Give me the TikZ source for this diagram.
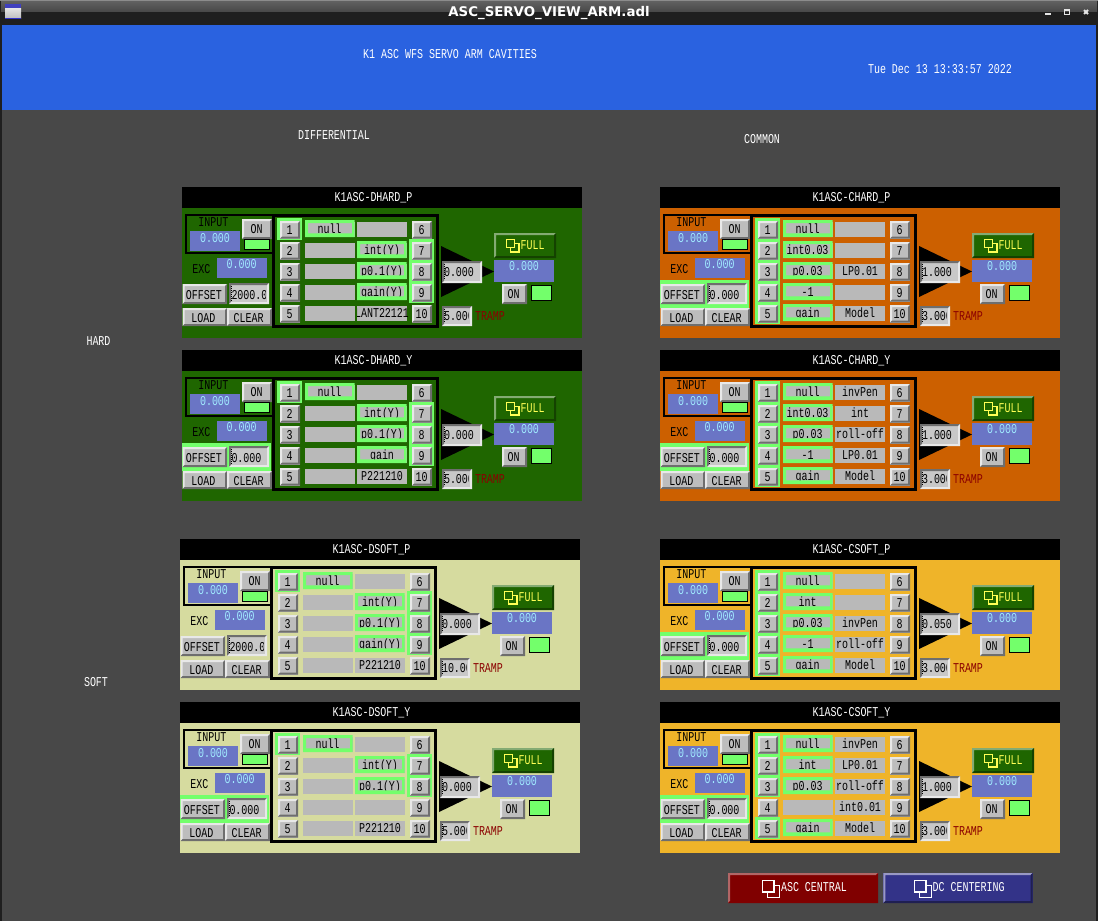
\documentclass[tikz,border=0pt]{standalone}
\usepackage{fontspec}
\setmainfont{Liberation Sans}
\newfontfamily\uifont[FakeStretch=0.74]{Liberation Mono}
\newfontfamily\titlefont{DejaVu Sans}
\definecolor{bgdark}{HTML}{484848}
\definecolor{headblue}{HTML}{2A62E0}
\definecolor{pgreen}{HTML}{1F6600}
\definecolor{porange}{HTML}{CC6000}
\definecolor{ppale}{HTML}{D6DB9F}
\definecolor{pgold}{HTML}{EFB429}
\definecolor{hlg}{HTML}{73FF6B}
\definecolor{valblue}{HTML}{6A75C5}
\definecolor{valtxt}{HTML}{A0EAFF}
\definecolor{btnface}{HTML}{BDBDBD}
\definecolor{cellgray}{HTML}{B9B9B9}
\definecolor{inface}{HTML}{C8C8C8}
\definecolor{bevlight}{HTML}{E8E8E8}
\definecolor{bevdark}{HTML}{6E6E6E}
\definecolor{tramptxt}{HTML}{8B0000}
\definecolor{fulltxt}{HTML}{FFFF55}
\definecolor{dcblue}{HTML}{333388}
\tikzset{
  lbl/.style={inner sep=0pt,outer sep=0pt,anchor=base,font=\uifont\fontsize{10.125pt}{12pt}\selectfont,text=black},
  lbll/.style={lbl,anchor=base west},
  wlbl/.style={lbl,text=white},
  wlbll/.style={lbll,text=white},
  val/.style={lbl,text=valtxt},
  cursor/.style={black,line width=0.75pt,dash pattern=on 0.75pt off 0.75pt},
  ind/.style={fill=hlg,draw=black,line width=0.75pt},
}
% bevel: x1 y1 x2 y2 face tl br
\newcommand\bevbox[7]{%
  \fill[#5] (#1,#2) rectangle (#3,#4);
  \fill[#6] (#1,#4) -- (#1,#2) -- (#3,#2) -- ({#3-2},{#2+2}) -- ({#1+2},{#2+2}) -- ({#1+2},{#4-2}) -- cycle;
  \fill[#7] (#3,#2) -- (#3,#4) -- (#1,#4) -- ({#1+2},{#4-2}) -- ({#3-2},{#4-2}) -- ({#3-2},{#2+2}) -- cycle;
}
% name x1 y1 x2 y2 textcx baseline text
\newcommand\btnbox[8]{%
  \bevbox{#2}{#3}{#4}{#5}{btnface}{bevlight}{bevdark}
  \node[lbl] (#1) at (#6,#7) {#8};
}
% name x1 y1 x2 y2 textleft baseline text
\newcommand\inbox[8]{%
  \bevbox{#2}{#3}{#4}{#5}{inface}{bevdark}{bevlight}
  \begin{scope}
    \clip ({#2+1},#3) rectangle ({#4-3.5},#5);
    \node[lbll] (#1) at (#6,#7) {#8};
  \end{scope}
  \draw[cursor] ({#2+2},{#3+3}) -- ({#2+2},{#5-3});
}
% two overlapping squares: x y colour fill size offset
\newcommand\winicon[6]{%
  \draw[#3,fill=#4,line width=0.9pt] ({#1+#6},{#2+#6}) rectangle ({#1+#6+#5},{#2+#6+#5});
  \draw[#3,fill=#4,line width=0.9pt] (#1,#2) rectangle ({#1+#5},{#2+#5});
}
\newcommand\setrows[5]{\def\LN{#1}\def\RN{#2}\def\BL{#3}\def\LL{#4}\def\RL{#5}}
% id x y title bg offsethl offsetval gain tramp
\newcommand\panel[9]{%
\begin{scope}[shift={(#2,#3)}]
  \fill[#5] (0,21) rectangle (400,151);
  \fill[black] (0,0) rectangle (400,21);
  \node[wlbl] (#1-title) at (191.5,14) {#4};
  % offset highlight
  \ifnum#6=1 \fill[hlg] (0,93) rectangle (89,120.5); \fi
  % input box
  \draw[black,line width=1.5pt] (4,28) rectangle (91,65.5);
  \node[lbl] (#1-input) at (31.3,39) {INPUT};
  \fill[valblue] (8,44) rectangle (58,64);
  \node[val] (#1-inval) at (33,55) {0.000};
  \btnbox{#1-inon}{60}{32}{90}{52}{74.7}{46.3}{ON}
  \draw[ind] (62,52.5) rectangle (87,62);
  % exc
  \node[lbl] (#1-exc) at (19.3,86.3) {EXC};
  \fill[valblue] (35,71) rectangle (85,91);
  \node[val] (#1-excval) at (59.7,81.3) {0.000};
  % offset, load, clear
  \btnbox{#1-offset}{0.5}{97}{45}{117}{21.8}{112.3}{OFFSET}
  \inbox{#1-offval}{47}{96}{87}{117}{49.5}{112}{#7}
  \btnbox{#1-load}{0.5}{121}{45}{139}{21.3}{135.3}{LOAD}
  \btnbox{#1-clear}{45}{121}{90}{139}{66.7}{135.3}{CLEAR}
  % filter box
  \draw[black,line width=2.25pt] (91.5,28.5) rectangle (255.5,139);
  \foreach \hb in \BL {%
    \pgfmathsetmacro\hy{(\hb>5?\hb-6:\hb-1)*21}
    \pgfmathsetmacro\hx{\hb>5?227:95}
    \fill[hlg] (\hx,{31+\hy}) rectangle ({\hx+25},{53+\hy});
  }
  \foreach \rw in {1,...,5} {%
    \pgfmathsetmacro\ya{34+(\rw-1)*21}
    \pgfmathsetmacro\yb{51.5+(\rw-1)*21}
    \pgfmathsetmacro\yc{47+(\rw-1)*21}
    \pgfmathtruncatemacro\rb{\rw+5}
    \btnbox{#1-btn\rw}{98}{\ya}{118}{\yb}{107.7}{\yc}{\rw}
    \btnbox{#1-btn\rb}{230}{\ya}{250}{\yb}{239.7}{\yc}{\rb}
  }
  \foreach \nm [count=\rw] in \LN {%
    \pgfmathsetmacro\ry{(\rw-1)*21}
    \fill[cellgray] (123,{35+\ry}) rectangle (173,{50+\ry});
    \begin{scope}
      \clip (123,{35+\ry}) rectangle (173,{50+\ry});
      \node[lbl] (#1-fl\rw) at (147.5,{46+\ry}) {\nm};
    \end{scope}
  }
  \foreach \nm [count=\rw] in \RN {%
    \pgfmathsetmacro\ry{(\rw-1)*21}
    \fill[cellgray] (175,{35+\ry}) rectangle (225,{50+\ry});
    \begin{scope}
      \clip (175,{35+\ry}) rectangle (225,{50+\ry});
      \node[lbl] (#1-fr\rw) at (200,{46+\ry}) {\nm};
    \end{scope}
  }
  \foreach \hb in \LL {%
    \pgfmathsetmacro\ry{(\hb-1)*21}
    \fill[hlg,even odd rule] (123,{33+\ry}) rectangle (172.5,{50+\ry}) (126,{36+\ry}) rectangle (170,{46.3+\ry});
  }
  \ifx\RL\empty\else
  \foreach \hb in \RL {%
    \pgfmathsetmacro\ry{(\hb-1)*21}
    \fill[hlg,even odd rule] (175,{33+\ry}) rectangle (224.5,{50+\ry}) (178,{36+\ry}) rectangle (222,{46.3+\ry});
  }
  \fi
  % gain
  \fill[black] (259,59) -- (312,84.5) -- (259,110) -- cycle;
  \inbox{#1-gain}{260}{74}{300}{96}{262}{89}{#8}
  \inbox{#1-tramp}{260}{119}{290}{139}{262}{133.7}{#9}
  \node[lbll,text=tramptxt] (#1-tramplbl) at (293,133.7) {TRAMP};
  % full
  \bevbox{312}{46}{374}{71}{pgreen}{pgreen!55!white}{pgreen!65!black}
  \winicon{324.3}{52.3}{fulltxt}{pgreen}{8.3}{4.3}
  \node[lbll,text=fulltxt] (#1-full) at (338.7,62.8) {FULL};
  \fill[valblue] (312,73) rectangle (372,95);
  \node[val] (#1-outval) at (342,83.7) {0.000};
  \btnbox{#1-outon}{320}{97}{345}{117}{331.7}{111.3}{ON}
  \draw[ind] (349.5,98.5) rectangle (369,113);
\end{scope}}
\begin{document}
\begin{tikzpicture}[x=0.75pt,y=-0.75pt]
\useasboundingbox (0,0) rectangle (1098,921);
\fill[bgdark] (0,0) rectangle (1098,921);
% window frame
\fill[black!88] (0,0) rectangle (1098,25);
\shade[top color=black!62,bottom color=black!72] (1,1) rectangle (1097,12);
\fill[black!45] (0,0) rectangle (1098,1);
\fill[black!88] (0,12) rectangle (1098,25);
\fill[black!88] (0,25) rectangle (2,921);
\fill[black!88] (1096,25) rectangle (1098,921);
% window icon
\fill[blue!50!gray] (5,4) rectangle (21,8);
\shade[top color=white!90!black,bottom color=black!25] (5,8) rectangle (21,18);
\fill[blue!60!gray] (5,18) rectangle (21,19);
\node[inner sep=0pt,anchor=base,text=white,font=\titlefont\bfseries\fontsize{10pt}{12pt}\selectfont] (wintitle) at (549,16) {ASC\_SERVO\_VIEW\_ARM.adl};
\fill[black!10] (1045,13) rectangle (1051,15);
\draw[black!10,line width=1pt] (1064.5,9.5) rectangle (1069.5,14.5);
\fill[black!10] (1064,9) rectangle (1070,11);
\draw[black!10,line width=1.5pt] (1084,10) -- (1088,14) (1088,10) -- (1084,14);
% header
\fill[headblue] (2,25) rectangle (1096,110);
\node[wlbl] (hdr) at (450,58) {K1 ASC WFS SERVO ARM CAVITIES};
\node[wlbll] (date) at (868,73) {Tue Dec 13 13:33:57 2022};
\node[wlbl] (diff) at (334,139) {DIFFERENTIAL};
\node[wlbl] (common) at (762,143) {COMMON};
\node[wlbl] (hard) at (98.5,345) {HARD};
\node[wlbl] (soft) at (96,686) {SOFT};

\setrows{null,,,,}{,int(Y),p0.1(Y),gain(Y),PLANT221210}{1,7,8,9}{1}{2,3,4}
\panel{dhp}{182}{187}{K1ASC-DHARD\_P}{pgreen}{0}{2000.000}{0.000}{5.000}
\setrows{null,,,,}{,int(Y),p0.1(Y),gain,P221210}{1,7,8,9}{1}{2,3,4}
\panel{dhy}{182}{350}{K1ASC-DHARD\_Y}{pgreen}{1}{0.000}{0.000}{5.000}
\setrows{null,,,,}{,int(Y),p0.1(Y),gain(Y),P221210}{1,7,8,9}{1}{2,3,4}
\panel{dsp}{180}{539}{K1ASC-DSOFT\_P}{ppale}{0}{2000.000}{0.000}{10.000}
\setrows{null,,,,}{,int(Y),p0.1(Y),,P221210}{1,7,8}{1}{2,3}
\panel{dsy}{180}{702}{K1ASC-DSOFT\_Y}{ppale}{1}{0.000}{0.000}{5.000}
\setrows{null,int0.03,p0.03,-1,gain}{,,LP0.01,,Model}{1,2,3,4,5}{1,2,3,4,5}{}
\panel{chp}{660}{187}{K1ASC-CHARD\_P}{porange}{1}{0.000}{1.000}{3.000}
\setrows{null,int0.03,p0.03,-1,gain}{invPen,int,roll-off,LP0.01,Model}{1,2,3,4,5}{1,2,3,4,5}{}
\panel{chy}{660}{350}{K1ASC-CHARD\_Y}{porange}{1}{0.000}{1.000}{3.000}
\setrows{null,int,p0.03,-1,gain}{,,invPen,roll-off,Model}{1,2,3,4,5}{1,2,3,4,5}{}
\panel{csp}{660}{539}{K1ASC-CSOFT\_P}{pgold}{1}{0.000}{0.050}{3.000}
\setrows{null,int,p0.03,,gain}{invPen,LP0.01,roll-off,int0.01,Model}{1,2,3,5}{1,2,3,5}{}
\panel{csy}{660}{702}{K1ASC-CSOFT\_Y}{pgold}{1}{0.000}{1.000}{3.000}

% bottom buttons
\bevbox{728}{873}{878}{903}{red!50!black}{red!50!black!60!white}{red!50!black}
\winicon{762.5}{880.5}{white}{red!50!black}{11.5}{5.2}
\node[wlbll] (asc) at (781,891.7) {ASC CENTRAL};
\bevbox{883.3}{873}{1032.7}{903}{dcblue}{dcblue!50!white}{dcblue!60!black}
\winicon{914.5}{880.5}{white}{dcblue}{11.5}{5.2}
\node[wlbll] (dc) at (932.7,891.7) {DC CENTERING};
\end{tikzpicture}
\end{document}
